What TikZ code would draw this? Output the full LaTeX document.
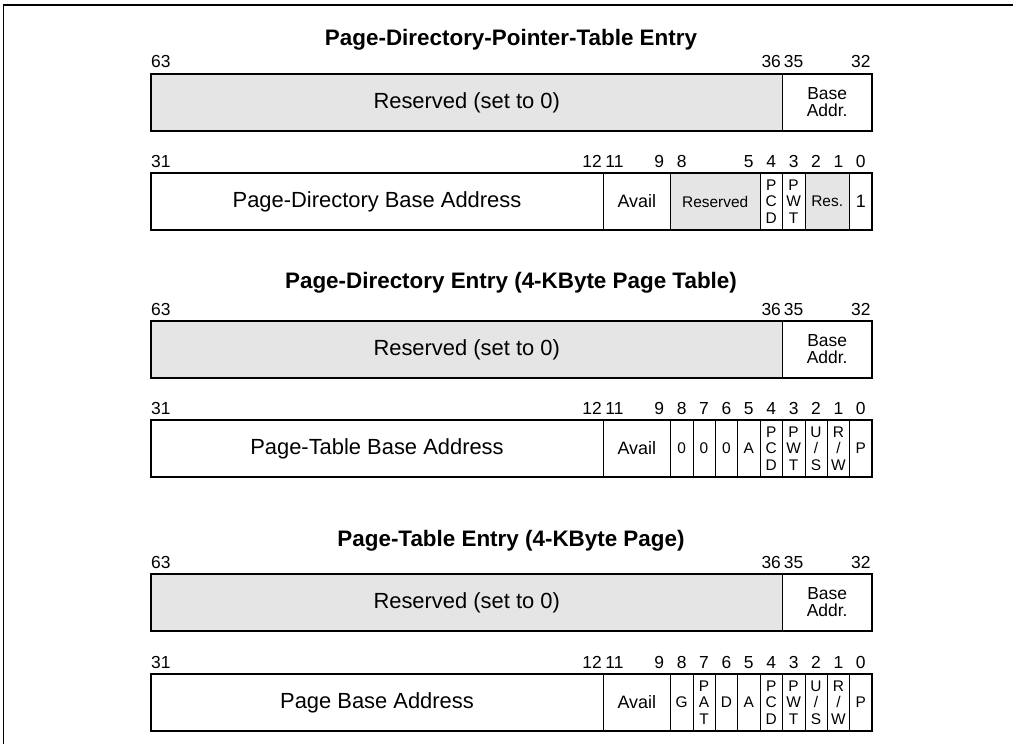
\documentclass[tikz,border=0pt]{standalone}
\usepackage{fontspec}
\setmainfont{Liberation Sans}
\usetikzlibrary{positioning}

\tikzset{
  regbox/.style={line width=1.6pt},
  sepline/.style={line width=0.6pt},
  resfill/.style={fill=gray!20, draw=none},
  bitnum/.style={font=\fontsize{17.5}{17.5}\selectfont, inner sep=0pt, anchor=base},
  widetxt/.style={font=\fontsize{22}{24}\selectfont, inner sep=0pt},
  fieldtxt/.style={font=\fontsize{18}{20}\selectfont, align=center, inner sep=0pt},
  smalltxt/.style={font=\fontsize{15.5}{16.5}\selectfont, align=center, inner sep=0pt},
  entrytitle/.style={font=\fontsize{22.5}{24}\selectfont\bfseries, inner sep=0pt},
}

\begin{document}
\begin{tikzpicture}[x=1bp,y=-1bp]
        \useasboundingbox (0,0) rectangle (1013,744);

        % frame round the figure (only top and left are in view)
        \draw[line width=1.5pt] (3.5,744) -- (3.5,5) -- (1013,5);

        % titles of the three entries
        \node[entrytitle] (pdptetitle) at (511,40) {Page-Directory-Pointer-Table Entry};
        \node[entrytitle] (pdetitle) at (511,283) {Page-Directory Entry (4-KByte Page Table)};
        \node[entrytitle] (ptetitle) at (511,541) {Page-Table Entry (4-KByte Page)};

        % upper halves (bits 63..32), the same in all three entries
        \foreach \t/\n in {74/pdpte, 321/pde, 574/pte} {
            \fill[resfill] (151,\t) rectangle (782.4,\t+57); % reserved part
            \draw[sepline] (782.4,\t) -- (782.4,\t+57);
            \draw[regbox] (151,\t) rectangle (872,\t+57);
            \node[widetxt] (\n res) at (466.7,\t+28.5) {Reserved (set to 0)};
            \node[smalltxt, font=\fontsize{17.5}{17}\selectfont] (\n base) at (827.2,\t+28.5) {Base\\Addr.};
            \node[bitnum, anchor=base west] (\n b63) at (151,\t-6) {63};
            \foreach \b in {36,35,32}
                \node[bitnum] (\n b\b) at ({872-22.4*(\b-32+0.5)},\t-6) {\b};
        }

        % PDPTE, bits 31..0
        \fill[resfill] (670.4,173) rectangle (760,230);   % reserved 8..5
        \fill[resfill] (804.8,173) rectangle (849.6,230); % reserved 2..1
        \foreach \s in {603.2,670.4,760,782.4,804.8,849.6}
            \draw[sepline] (\s,173) -- (\s,230);
        \draw[regbox] (151,173) rectangle (872,230);
        \node[widetxt] (pdbase) at (377,201.5) {Page-Directory Base Address};
        \node[fieldtxt] (pdavail) at (636.8,201.5) {Avail};
        \node[smalltxt] (pdres) at (715.2,201.5) {Reserved};
        \node[smalltxt] (pdpcd) at (771.2,201.5) {P\\C\\D};
        \node[smalltxt] (pdpwt) at (793.6,201.5) {P\\W\\T};
        \node[smalltxt] (pdres2) at (827.2,201.5) {Res.};
        \node[fieldtxt] (pdone) at (860.8,201.5) {1};
        \node[bitnum, anchor=base west] (pdb31) at (151,167) {31};
        \foreach \b in {12,11,9,8,5,4,3,2,1,0}
            \node[bitnum] (pdb\b) at ({872-22.4*(\b+0.5)},167) {\b};

        % PDE, bits 31..0
        \foreach \s in {603.2,670.4,692.8,715.2,737.6,760,782.4,804.8,827.2,849.6}
            \draw[sepline] (\s,420) -- (\s,477);
        \draw[regbox] (151,420) rectangle (872,477);
        \node[widetxt] (ptbase) at (377,448.5) {Page-Table Base Address};
        \node[fieldtxt] (ptavail) at (636.8,448.5) {Avail};
        \node[smalltxt] (pt8) at (681.6,448.5) {0};
        \node[smalltxt] (pt7) at (704,448.5) {0};
        \node[smalltxt] (pt6) at (726.4,448.5) {0};
        \node[smalltxt] (pta) at (748.8,448.5) {A};
        \node[smalltxt] (ptpcd) at (771.2,448.5) {P\\C\\D};
        \node[smalltxt] (ptpwt) at (793.6,448.5) {P\\W\\T};
        \node[smalltxt] (ptus) at (816,448.5) {U\\/\\S};
        \node[smalltxt] (ptrw) at (838.4,448.5) {R\\/\\W};
        \node[smalltxt] (ptp) at (860.8,448.5) {P};
        \node[bitnum, anchor=base west] (ptb31) at (151,414) {31};
        \foreach \b in {12,11,9,8,7,6,5,4,3,2,1,0}
            \node[bitnum] (ptb\b) at ({872-22.4*(\b+0.5)},414) {\b};

        % PTE, bits 31..0
        \foreach \s in {603.2,670.4,692.8,715.2,737.6,760,782.4,804.8,827.2,849.6}
            \draw[sepline] (\s,674) -- (\s,731);
        \draw[regbox] (151,674) rectangle (872,731);
        \node[widetxt] (pgbase) at (377,702.5) {Page Base Address};
        \node[fieldtxt] (pgavail) at (636.8,702.5) {Avail};
        \node[smalltxt] (pgg) at (681.6,702.5) {G};
        \node[smalltxt] (pgpat) at (704,702.5) {P\\A\\T};
        \node[smalltxt] (pgd) at (726.4,702.5) {D};
        \node[smalltxt] (pga) at (748.8,702.5) {A};
        \node[smalltxt] (pgpcd) at (771.2,702.5) {P\\C\\D};
        \node[smalltxt] (pgpwt) at (793.6,702.5) {P\\W\\T};
        \node[smalltxt] (pgus) at (816,702.5) {U\\/\\S};
        \node[smalltxt] (pgrw) at (838.4,702.5) {R\\/\\W};
        \node[smalltxt] (pgp) at (860.8,702.5) {P};
        \node[bitnum, anchor=base west] (pgb31) at (151,668) {31};
        \foreach \b in {12,11,9,8,7,6,5,4,3,2,1,0}
            \node[bitnum] (pgb\b) at ({872-22.4*(\b+0.5)},668) {\b};
\end{tikzpicture}
\end{document}
